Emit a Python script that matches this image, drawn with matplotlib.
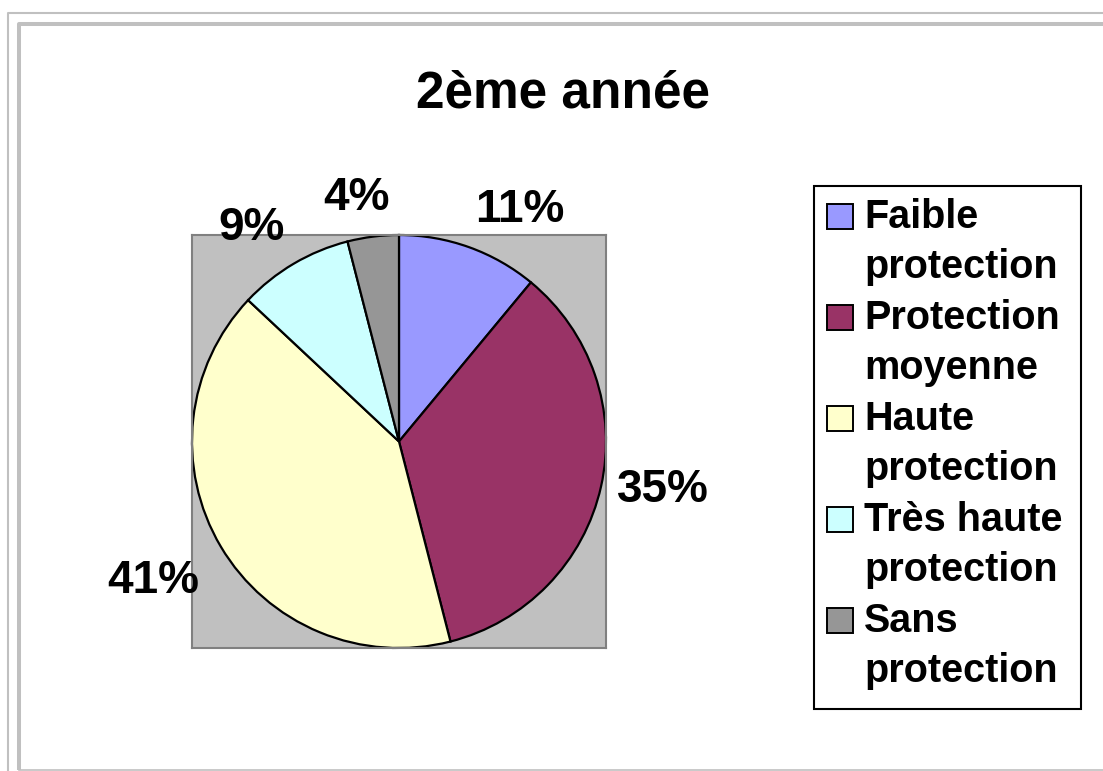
import numpy as np
import matplotlib
matplotlib.use("Agg")
import matplotlib.pyplot as plt
from matplotlib.patches import Rectangle
from matplotlib.lines import Line2D

plt.rcParams["font.family"] = ["Liberation Sans", "DejaVu Sans"]
plt.rcParams["font.weight"] = "bold"

# data
categories = ["Faible\nprotection", "Protection\nmoyenne", "Haute\nprotection",
              "Très haute\nprotection", "Sans\nprotection"]
shares = [11, 35, 41, 9, 4]
colors = ["#9999FF", "#993366", "#FFFFCC", "#CCFFFF", "#969696"]
title = "2ème année"

W, H = 1103, 771
fig = plt.figure(figsize=(W / 100, H / 100), dpi=100)

# pixel-coordinate backdrop for frame and legend
bg = fig.add_axes([0, 0, 1, 1])
bg.set_xlim(0, W)
bg.set_ylim(H, 0)
bg.axis("off")

frame = "#C0C0C0"
bg.add_line(Line2D([8, 8, W], [H, 13, 13], color=frame, lw=1.5, solid_capstyle="butt"))
bg.add_line(Line2D([19, 19, W], [770, 24, 24], color=frame, lw=2.9, solid_capstyle="butt"))
bg.add_line(Line2D([19, W], [769.5, 769.5], color=frame, lw=1.2))

bg.text(563, 107, title, ha="center", va="baseline", fontsize=37, fontweight="bold")

# legend
bg.add_patch(Rectangle((814, 186), 267, 523, facecolor="white", edgecolor="black", lw=1.5))
for i, (lab, col) in enumerate(zip(categories, colors)):
    y0 = 204 + i * 101
    bg.add_patch(Rectangle((827, y0), 26, 25, facecolor=col, edgecolor="black", lw=1.4))
    for j, line in enumerate(lab.split("\n")):
        bg.text(864, y0 + 24 + j * 50, line, ha="left", va="baseline",
                fontsize=28.5, fontweight="bold")

# pie on grey plot area
left, right, top, bottom = 192, 606, 235, 648
ax = fig.add_axes([left / W, 1 - bottom / H, (right - left) / W, (bottom - top) / H])

wedges, _ = ax.pie(shares, colors=colors, startangle=90, counterclock=False,
                   radius=1, wedgeprops=dict(edgecolor="black", linewidth=1.6))
ax.set_frame_on(True)
ax.set_facecolor("#C0C0C0")
for sp in ax.spines.values():
    sp.set_color("#808080")
    sp.set_linewidth(1.5)
ax.set_xticks([])
ax.set_yticks([])
ax.set_xlim(-1, 1)
ax.set_ylim(-1, 1)
ax.set_aspect("auto")

for w, v in zip(wedges, shares):
    mid = np.deg2rad((w.theta1 + w.theta2) / 2)
    c, s = np.cos(mid), np.sin(mid)
    ha = "center" if abs(c) < 0.25 else ("left" if c > 0 else "right")
    va = "center" if abs(s) < 0.3 else ("bottom" if s > 0 else "top")
    r = 1.08 if s > -0.3 else 1.12
    ax.text(r * c - (0.07 if ha == "center" else 0), r * s, f"{v}%", ha=ha, va=va,
            fontsize=33, fontweight="bold", clip_on=False)

fig.savefig("out.png", dpi=100)
